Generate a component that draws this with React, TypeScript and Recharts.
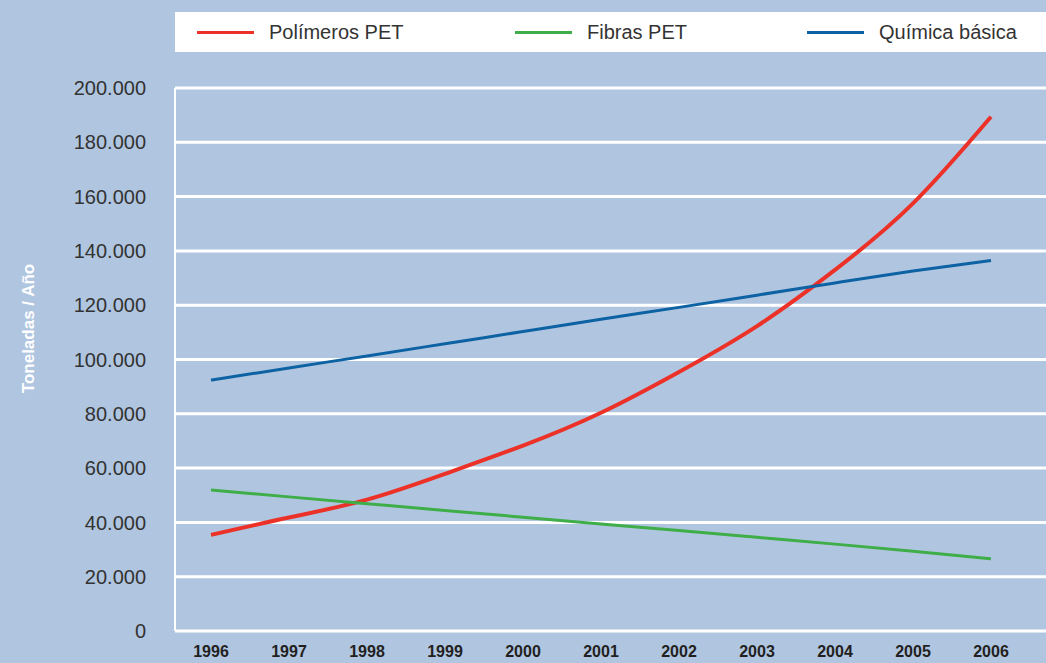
import { LineChart, Line, XAxis, YAxis, CartesianGrid, Legend, Label } from 'recharts'

const years = [1996, 1997, 1998, 1999, 2000, 2001, 2002, 2003, 2004, 2005, 2006]
const polimerosPet = [35400, 41800, 48400, 57900, 68300, 80400, 95400, 112300, 133000, 157500, 189400]
const fibrasPet = [51900, 49400, 46900, 44400, 41900, 39400, 37000, 34500, 32000, 29400, 26600]
const quimicaBasica = [92400, 96900, 101300, 105800, 110300, 114800, 119200, 123700, 128200, 132600, 136500]
const yTicks = [0, 20000, 40000, 60000, 80000, 100000, 120000, 140000, 160000, 180000, 200000]

const data = years.map((year, i) => ({
  year,
  polimeros: polimerosPet[i],
  fibras: fibrasPet[i],
  quimica: quimicaBasica[i],
}))

const series = [
  { key: 'polimeros', name: 'Polímeros PET', color: '#ec3228', width: 4 },
  { key: 'fibras', name: 'Fibras PET', color: '#3fae49', width: 3 },
  { key: 'quimica', name: 'Química básica', color: '#0d62a3', width: 3 },
]

const BG = '#b0c6e0'
const FONT = '"Liberation Sans", Arial, Helvetica, sans-serif'

// legend item offsets inside the white box
const legendLeft = [22, 340, 632]

const renderLegend = () => (
  <div style={{ position: 'relative', height: 40, background: '#fff', fontFamily: FONT }}>
    {series.map((s, i) => (
      <div
        key={s.key}
        style={{ position: 'absolute', left: legendLeft[i], top: 0, height: 40, display: 'flex', alignItems: 'center' }}
      >
        <span style={{ display: 'inline-block', width: 57, height: 3, background: s.color, marginRight: 15 }} />
        <span style={{ fontSize: 20, color: '#333' }}>{s.name}</span>
      </div>
    ))}
  </div>
)

const formatY = (v: number) => (v === 0 ? '0' : `${v / 1000}.000`)

export default function App() {
  return (
    <div style={{ width: 1046, height: 663, background: BG }}>
      <style>{`body { margin: 0; }`}</style>
      <LineChart width={1046} height={663} data={data} margin={{ top: 48, right: 0, left: 0, bottom: 0 }}>
        <CartesianGrid vertical={false} stroke="#fff" strokeWidth={3} />
        <XAxis
          dataKey="year"
          type="number"
          domain={[1996, 2006]}
          ticks={years}
          padding={{ left: 36, right: 55 }}
          height={32}
          axisLine={false}
          tickLine={false}
          tickSize={0}
          tickMargin={15}
          interval={0}
          tick={{ fill: '#231f20', fontSize: 16, fontWeight: 700, fontFamily: FONT }}
        />
        <YAxis
          domain={[0, 200000]}
          ticks={yTicks}
          width={175}
          tickFormatter={formatY}
          axisLine={{ stroke: '#fff', strokeWidth: 2 }}
          tickLine={false}
          tickSize={0}
          tickMargin={29}
          tick={{ fill: '#333', fontSize: 20, fontFamily: FONT }}
        >
          <Label
            content={(props: any) => {
              const vb = props.viewBox
              const cx = vb.x + 28
              const cy = vb.y + vb.height / 2 - 31
              return (
                <text
                  x={cx}
                  y={cy}
                  transform={`rotate(-90, ${cx}, ${cy})`}
                  textAnchor="middle"
                  dominantBaseline="central"
                  fill="#fff"
                  fontSize={17}
                  fontWeight={700}
                  fontFamily={FONT}
                >
                  Toneladas / Año
                </text>
              )
            }}
          />
        </YAxis>
        <Legend
          verticalAlign="top"
          content={renderLegend}
          wrapperStyle={{ top: 12, left: 175, width: 871, height: 40 }}
        />
        {series.map((s) => (
          <Line
            key={s.key}
            type="natural"
            dataKey={s.key}
            name={s.name}
            stroke={s.color}
            strokeWidth={s.width}
            dot={false}
            isAnimationActive={false}
          />
        ))}
      </LineChart>
    </div>
  )
}
